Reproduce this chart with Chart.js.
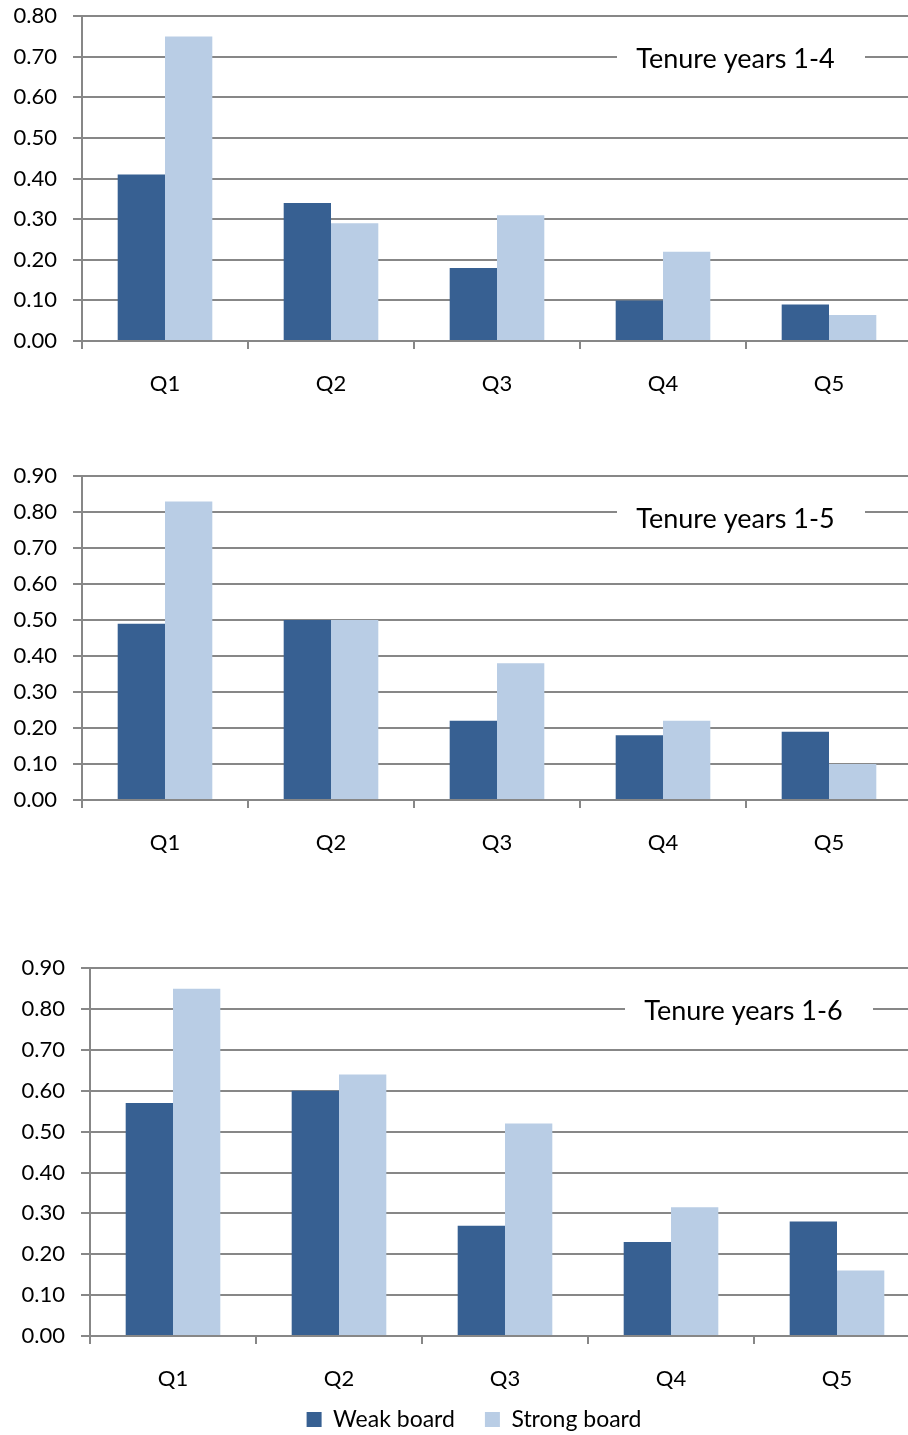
<!DOCTYPE html>
<html>
<head>
<meta charset="utf-8">
<title>Tenure years</title>
<script src="https://cdn.jsdelivr.net/npm/chart.js@4.4.1/dist/chart.umd.min.js"></script>
<style>
  html, body { margin: 0; padding: 0; background: #fff; overflow: hidden; }
  .box { position: absolute; left: 0; }
  canvas { display: block; }
</style>
</head>
<body>
<div class="box" style="top:-13px"><canvas id="chart14" width="912" height="423"></canvas></div>
<div class="box" style="top:447px"><canvas id="chart15" width="912" height="422"></canvas></div>
<div class="box" style="top:939px"><canvas id="chart16" width="920" height="520"></canvas></div>
<script>
// valores
const quintiles = ['Q1', 'Q2', 'Q3', 'Q4', 'Q5']
const seriesNames = ['Weak board', 'Strong board']
const weak14 = [0.41, 0.34, 0.18, 0.10, 0.09]
const strong14 = [0.75, 0.29, 0.31, 0.22, 0.064]
const weak15 = [0.49, 0.50, 0.22, 0.18, 0.19]
const strong15 = [0.83, 0.50, 0.38, 0.22, 0.10]
const weak16 = [0.57, 0.60, 0.27, 0.23, 0.28]
const strong16 = [0.85, 0.64, 0.52, 0.315, 0.16]

Chart.defaults.font.family = 'Lato'
Chart.defaults.color = '#000'
const gridGray = '#878787'

// etiqueta con fondo blanco dentro del area del grafico
const tenureLabel = {
  id: 'tenureLabel',
  afterDraw(chart, args, opts) {
    const { ctx, chartArea } = chart
    const left = chartArea.left
    ctx.save()
    ctx.fillStyle = '#fff'
    ctx.fillRect(left + 535, chartArea.top + 28, 248, 30)
    ctx.fillStyle = '#000'
    ctx.font = '27px Lato'
    ctx.textAlign = 'center'
    ctx.textBaseline = 'alphabetic'
    ctx.fillText(opts.text, left + 653.5, chartArea.top + 52)
    ctx.restore()
  }
}

// la leyenda de Excel no esta centrada en el canvas, la movemos un poco
const legendShift = {
  id: 'legendShift',
  afterLayout(chart, args, opts) {
    const lg = chart.legend
    if (!lg) return
    lg.left += opts.dx || 0
    lg.right += opts.dx || 0
    lg.top += opts.dy || 0
    lg.bottom += opts.dy || 0
  }
}

const renderChart = (id, weak, strong, max, label, cfg) => {
  const data = {
    labels: quintiles,
    datasets: [
      { label: seriesNames[0], data: weak, backgroundColor: '#376092' },
      { label: seriesNames[1], data: strong, backgroundColor: '#b9cde5' }
    ]
  }
  const options = {
    responsive: false,
    animation: false,
    layout: { padding: 0 },
    datasets: { bar: { categoryPercentage: 0.57, barPercentage: 1 } },
    plugins: {
      legend: {
        display: cfg.legend,
        position: 'bottom',
        labels: { boxWidth: 15, boxHeight: 15, padding: 30, font: { size: 23 } }
      },
      tooltip: { enabled: false },
      tenureLabel: { text: label },
      legendShift: { dx: cfg.legendDx, dy: cfg.legendDy }
    },
    scales: {
      x: {
        ticks: { font: { size: 22 }, padding: 22 },
        grid: { drawOnChartArea: false, color: gridGray, lineWidth: 2, tickLength: 8, offset: true },
        border: { color: gridGray, width: 2 },
        afterFit: s => { s.height = cfg.xHeight }
      },
      y: {
        min: 0,
        max: max,
        ticks: { stepSize: 0.1, font: { size: 22 }, padding: 16, callback: v => v.toFixed(2) },
        grid: { color: gridGray, lineWidth: 2, tickLength: 9 },
        border: { color: gridGray, width: 2 },
        afterFit: s => { s.width = cfg.yWidth }
      }
    }
  }
  new Chart(id, { type: 'bar', data, options, plugins: [tenureLabel, legendShift] })
}

renderChart('chart14', weak14, strong14, 0.8, 'Tenure years 1-4',
  { yWidth: 82, xHeight: 69, legend: false })
renderChart('chart15', weak15, strong15, 0.9, 'Tenure years 1-5',
  { yWidth: 82, xHeight: 69, legend: false })
renderChart('chart16', weak16, strong16, 0.9, 'Tenure years 1-6',
  { yWidth: 90, xHeight: 60, legend: true, legendDx: 14, legendDy: -18 })
</script>
</body>
</html>
